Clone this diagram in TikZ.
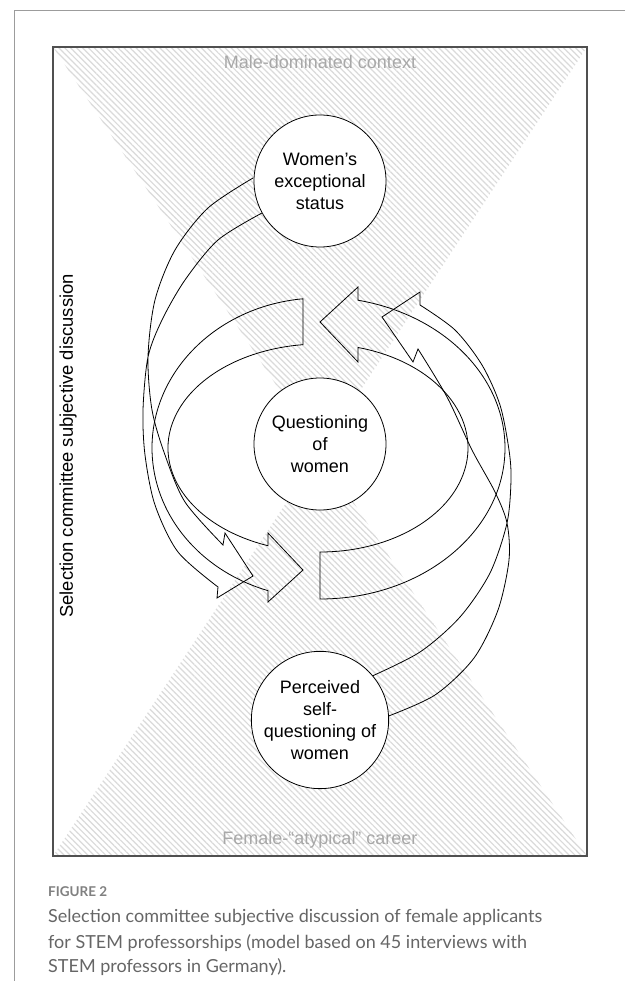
\documentclass[tikz,border=0pt]{standalone}
\usepackage{fontspec}
\setmainfont{Liberation Sans}
\newfontfamily\capfont{Lato}
\usetikzlibrary{calc,patterns.meta}
\definecolor{hatchgray}{HTML}{DADADA}
\definecolor{ctxgray}{HTML}{A8A8A8}
\definecolor{framegray}{HTML}{9C9C9C}
\definecolor{boxgray}{HTML}{505050}
\definecolor{capgray}{HTML}{666666}
\definecolor{figgray}{HTML}{808080}
\begin{document}
\begin{tikzpicture}[x=1pt,y=-1pt,
  blockarrow/.style={draw=black, line width=0.8pt, line join=miter},
  circ/.style={circle, draw=black, line width=0.8pt, fill=white, minimum size=132pt,
    inner sep=0pt, align=center, font=\fontsize{18}{22}\selectfont},
  ctx/.style={text=ctxgray, font=\fontsize{18}{22}\selectfont},
  hatchfill/.style={pattern={Lines[angle=-45,distance=4.2pt,line width=1.2pt]}, pattern color=hatchgray},
  capline/.style={anchor=base west, text=capgray, font=\capfont\fontsize{18}{25}\selectfont, inner sep=0pt}
]
\useasboundingbox (0,0) rectangle (625,981);
\fill[white] (0,0) rectangle (625,981);
\draw[framegray, line width=1pt] (625,11) -- (14,11) -- (14,981);

% hatched hour-glass
\fill[hatchfill] (53,47) -- (587,47) -- (320,451.5) -- cycle;
\fill[hatchfill] (53,856) -- (587,856) -- (320,451.5) -- cycle;
\draw[boxgray, line width=1.2pt] (53,47) rectangle (587,856);

\node[ctx] (male) at (320,62) {Male-dominated context};
\node[ctx] (female) at (320,840) {Female-“atypical” career};
\node[rotate=90, font=\fontsize{18.4}{22}\selectfont] (side) at (68,446) {Selection committee subjective discussion};

\coordinate (C) at (320,448);
% big band, left half
\draw[blockarrow] ($(C)+(264.19:168 and 150)$) arc[start angle=264.19, end angle=108.03, x radius=168, y radius=150]
  -- (268,602) -- (303,570) -- (268,533)
  -- ($(C)+(110:152 and 104)$) arc[start angle=110, end angle=263.58, x radius=152, y radius=104] -- cycle;
% big band, right half
\draw[blockarrow] ($(C)+(90:185 and 151)$) arc[start angle=90, end angle=-78.15, x radius=185, y radius=151]
  -- (358,287) -- (320,322) -- (358,362)
  -- ($(C)+(-75.12:148 and 104)$) arc[start angle=-75.12, end angle=90, x radius=148, y radius=104] -- cycle;

% thin arrow from top circle
\draw[blockarrow] plot[smooth] coordinates {(253,178) (208,208) (175,250) (155,300) (148,357) (152,410) (165,455) (185,502) (223,545)}
  -- (225,533) -- (253,576) -- (217,598) -- (218,587)
  -- plot[smooth] coordinates {(218,587) (178,552) (155,505) (145,455) (143,410) (148,357) (162,320) (185,280) (218,240) (262,213)};
% thin arrow from bottom circle
\draw[blockarrow] plot[smooth] coordinates {(370,677) (420,652) (460,617) (490,573) (507,523) (511,480) (509,450) (500,405) (482,365) (455,330) (420,305)}
  -- (420,292) -- (382,317) -- (413,362) -- (418,349)
  -- plot[smooth] coordinates {(418,349) (447,397) (472,450) (495,492) (507,523) (509,560) (498,610) (474,658) (435,695) (386,717)};

\node[circ] (ex) at (320,181) {Women’s\\exceptional\\status};
\node[circ] (qu) at (320,444) {Questioning\\of\\women};
\node[circ] (pe) at (320,720) {Perceived\\self-\\questioning of\\women};

\node[anchor=base west, text=figgray, font=\capfont\bfseries\fontsize{13.5}{16}\selectfont, inner sep=0pt] (fig) at (48,896) {FIGURE 2};
\node[capline] (cap1) at (48,922) {Selection committee subjective discussion of female applicants};
\node[capline] (cap2) at (48,948) {for STEM professorships (model based on 45 interviews with};
\node[capline] (cap3) at (48,972) {STEM professors in Germany).};
\end{tikzpicture}
\end{document}
